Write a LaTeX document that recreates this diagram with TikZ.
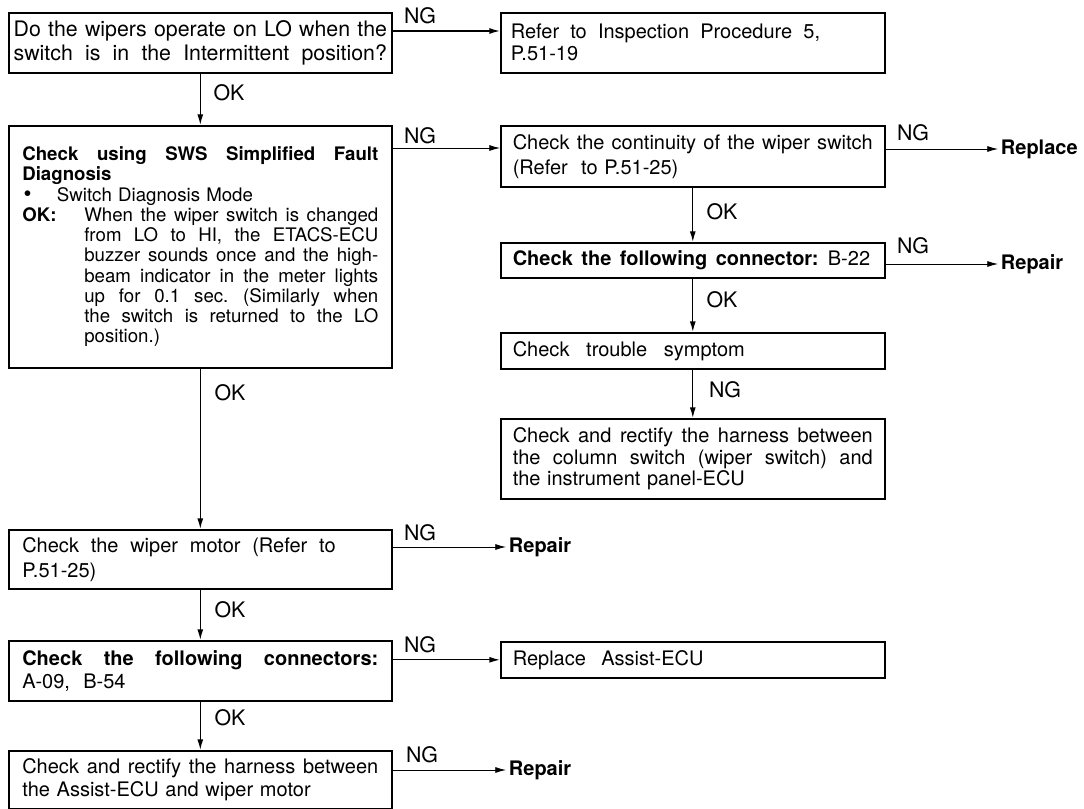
\documentclass[tikz,border=0pt]{standalone}
\usepackage{fontspec}
\setmainfont{TeX Gyre Heros}
\usetikzlibrary{arrows.meta}
\newcommand\jl[2][\hsize]{\makebox[#1][s]{\spaceskip=.25em plus 1fil\xspaceskip=.3em plus 1fil\relax #2}}
\newcommand\bigdot{\smash{\raisebox{0pt}{\fontsize{17}{15}\selectfont\textbullet}}}
\begin{document}
\begin{tikzpicture}[x=0.75pt,y=-0.75pt,
  box/.style={draw,line width=1.2pt,anchor=north west,inner ysep=0pt,align=left,font=\fontsize{15}{16}\selectfont},
  lbl/.style={font=\fontsize{16}{16}\selectfont,inner sep=0pt},
  res/.style={font=\fontsize{15}{15}\selectfont\bfseries,anchor=west,inner sep=2pt},
  arr/.style={-{Latex[length=8pt,width=4.5pt]},line width=1pt},
  tarr/.style={arr,line width=0.6pt}]
\fill[white] (0,0) rectangle (1084,809);
\useasboundingbox (0,0) rectangle (1084,809);

% left column
\node[box,minimum width=287.25pt,minimum height=45pt,text width=280pt,inner xsep=3.6pt,font=\fontsize{16}{18}\selectfont] (b1) at (8,12)
  {\jl[280pt]{Do the wipers operate on LO when the}\\\jl[280pt]{switch is in the Intermittent position?}};
\node[box,minimum width=287.25pt,minimum height=181.5pt,text width=267pt,font=\fontsize{14}{15.2}\selectfont] (sws) at (8,125)
  {\jl[267pt]{\bfseries Check using SWS Simplified Fault}\\
   \textbf{Diagnosis}\\
   \makebox[26pt][l]{\hspace{1pt}\bigdot}Switch Diagnosis Mode\\
   \makebox[46.5pt][l]{\textbf{OK:}}\parbox[t]{220.5pt}{\jl[220.5pt]{When the wiper switch is changed}\\
     \jl[220.5pt]{from LO to HI, the ETACS-ECU}\\
     \jl[220.5pt]{buzzer sounds once and the high-}\\
     \jl[220.5pt]{beam indicator in the meter lights}\\
     \jl[220.5pt]{up for 0.1 sec. (Similarly when}\\
     \jl[220.5pt]{the switch is returned to the LO}\\
     position.)}};
\node[box,minimum width=287.25pt,minimum height=44.25pt,text width=267pt,font=\fontsize{15}{18.75}\selectfont] (wiper) at (8,529)
  {\jl[235pt]{Check the wiper motor (Refer to}\\P.51-25)};
\node[box,minimum width=287.25pt,minimum height=45pt,text width=267pt,font=\fontsize{15}{17}\selectfont] (conn) at (8,640)
  {\jl[267pt]{\bfseries Check the following connectors:}\\A-09,\ \ B-54};
\node[box,minimum width=287.25pt,minimum height=43.5pt,text width=267pt,font=\fontsize{15}{17}\selectfont] (last) at (8,750)
  {\jl[267pt]{Check and rectify the harness between}\\the Assist-ECU and wiper motor};

% right column
\node[box,minimum width=288pt,minimum height=45pt,text width=273pt,inner xsep=7.5pt,font=\fontsize{15}{16.5}\selectfont] (refer) at (500,12)
  {\jl[232pt]{Refer to Inspection Procedure 5,}\\P.51-19};
\node[box,minimum width=288pt,minimum height=45.75pt,text width=270pt,font=\fontsize{15}{18.75}\selectfont] (cont) at (500,125)
  {\jl[270pt]{Check the continuity of the wiper switch}\\(Refer\ \ to P.51-25)};
\node[box,minimum width=288pt,minimum height=26.25pt,text width=270pt] (b22) at (500,242)
  {\jl[268pt]{\textbf{Check the following connector:} B-22}};
\node[box,minimum width=288pt,minimum height=27pt,text width=270pt] (trouble) at (500,332)
  {\jl[174pt]{Check trouble symptom}};
\node[box,minimum width=288pt,minimum height=60pt,text width=270pt,font=\fontsize{15}{16}\selectfont] (harn) at (500,418)
  {\jl[270pt]{Check and rectify the harness between}\\\jl[270pt]{the column switch (wiper switch) and}\\the instrument panel-ECU};
\node[box,minimum width=288pt,minimum height=27pt,text width=270pt] (repbox) at (500,641)
  {\jl[143pt]{Replace Assist-ECU}};

% result texts
\node[res] (rp1) at (998,149) {Replace};
\node[res] (rp2) at (998,264) {Repair};
\node[res] (rp3) at (506,547) {Repair};
\node[res] (rp4) at (506,770) {Repair};

% labels
\node[lbl] (ng1) at (420,16) {NG};
\node[lbl] (ng2) at (420,136) {NG};
\node[lbl] (ng3) at (913,133) {NG};
\node[lbl] (ng4) at (913,246) {NG};
\node[lbl] (ng5) at (725,390) {NG};
\node[lbl] (ng6) at (420,533) {NG};
\node[lbl] (ng7) at (420,645) {NG};
\node[lbl] (ng8) at (422,755) {NG};
\node[lbl] (ok1) at (229,93) {OK};
\node[lbl] (ok2) at (230,393) {OK};
\node[lbl] (ok3) at (722,212) {OK};
\node[lbl] (ok4) at (722,300) {OK};
\node[lbl] (ok5) at (230,610) {OK};
\node[lbl] (ok6) at (230,718) {OK};

% connectors
\draw[arr] ([yshift=-14.25pt]b1.north east) -- ([yshift=-14.25pt]refer.north west);
\draw[tarr] ([yshift=-17.25pt]sws.north east) -- ([yshift=-17.25pt]cont.north west);
\draw[tarr] (cont.east |- rp1.west) -- (rp1.west);
\draw[tarr] (b22.east |- rp2.west) -- (rp2.west);
\draw[tarr] (wiper.east |- rp3.west) -- (rp3.west);
\draw[arr] (conn.east |- repbox.west) -- (repbox.west);
\draw[tarr] (last.east |- rp4.west) -- (rp4.west);
\draw[arr] (b1.south) -- (sws.north);
\draw[arr] (sws.south) -- (wiper.north);
\draw[arr] (wiper.south) -- (conn.north);
\draw[arr] (conn.south) -- (last.north);
\draw[arr] (cont.south) -- (b22.north);
\draw[arr] (b22.south) -- (trouble.north);
\draw[arr] (trouble.south) -- (harn.north);
\end{tikzpicture}
\end{document}
